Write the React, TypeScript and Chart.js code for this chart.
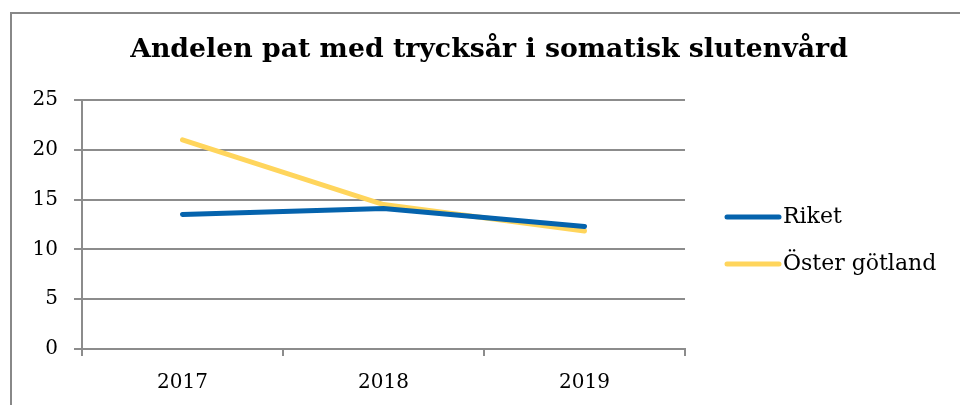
import React, { useEffect, useRef } from "react";
import { Chart, registerables } from "chart.js";

Chart.register(...registerables);

const title = "Andelen pat med trycksår i somatisk slutenvård";
const categories = ["2017", "2018", "2019"];
const riket = [13.5, 14.1, 12.3];
const ostergotland = [21.0, 14.5, 11.85];
const seriesNames = ["Riket", "Öster götland"];
const seriesColors = ["#0563AD", "#FFD55C"];
const yTicks = [0, 5, 10, 15, 20, 25];

const FONT = "'DejaVu Serif', Georgia, serif";

const framePlugin = {
  id: "frame",
  beforeDraw(chart: any) {
    const ctx = chart.ctx;
    ctx.save();
    ctx.fillStyle = "#ffffff";
    ctx.fillRect(0, 0, chart.width, chart.height);
    ctx.fillStyle = "#888888";
    ctx.fillRect(10, 12, 2, chart.height - 12);
    ctx.fillRect(10, 12, chart.width - 10, 2);
    ctx.restore();
  },
  afterDraw(chart: any) {
    const ctx = chart.ctx;
    ctx.save();
    // title
    ctx.fillStyle = "#000000";
    ctx.font = `bold 24px ${FONT}`;
    const target = 718;
    const w = ctx.measureText(title).width;
    const size = Math.max(16, Math.min(28, (24 * target) / w));
    ctx.font = `bold ${size}px ${FONT}`;
    ctx.textAlign = "center";
    ctx.textBaseline = "alphabetic";
    ctx.fillText(title, 489, 57);
    // legend
    const items = chart.data.datasets;
    ctx.font = `22px ${FONT}`;
    ctx.textAlign = "left";
    ctx.textBaseline = "middle";
    const ys = [217, 264];
    items.forEach((ds: any, i: number) => {
      const y = ys[i];
      ctx.strokeStyle = ds.borderColor;
      ctx.lineWidth = 5;
      ctx.lineCap = "round";
      ctx.beginPath();
      ctx.moveTo(727, y);
      ctx.lineTo(779, y);
      ctx.stroke();
      ctx.fillStyle = "#000000";
      ctx.fillText(ds.label, 783, y);
    });
    ctx.restore();
  },
};

export default function App() {
  const ref = useRef<HTMLCanvasElement | null>(null);
  useEffect(() => {
    document.body.style.margin = "0";
    if (!ref.current) return;
    const chart = new Chart(ref.current, {
      type: "line",
      data: {
        labels: categories,
        datasets: [
          {
            label: seriesNames[0],
            data: riket,
            borderColor: seriesColors[0],
            backgroundColor: seriesColors[0],
            borderWidth: 5,
            borderCapStyle: "round",
            pointRadius: 0,
            tension: 0,
          },
          {
            label: seriesNames[1],
            data: ostergotland,
            borderColor: seriesColors[1],
            backgroundColor: seriesColors[1],
            borderWidth: 5,
            borderCapStyle: "round",
            pointRadius: 0,
            tension: 0,
          },
        ],
      },
      options: {
        animation: false,
        responsive: false,
        devicePixelRatio: 1,
        layout: { padding: { left: 0, top: 100, right: 275, bottom: 0 } },
        plugins: {
          legend: { display: false },
          title: { display: false },
          tooltip: { enabled: false },
        },
        scales: {
          x: {
            offset: true,
            grid: {
              offset: true,
              drawOnChartArea: false,
              drawTicks: true,
              tickLength: 7,
              color: "#8c8c8c",
              lineWidth: 2,
            },
            border: { display: true, color: "#8c8c8c", width: 2 },
            ticks: {
              color: "#000000",
              font: { family: FONT, size: 20 },
              padding: 15,
              maxRotation: 0,
            },
            afterFit(scale: any) {
              scale.height = 56;
            },
          },
          y: {
            min: 0,
            max: 25,
            afterBuildTicks(scale: any) {
              scale.ticks = yTicks.map((v) => ({ value: v }));
            },
            grid: {
              color: "#8c8c8c",
              lineWidth: 2,
              drawTicks: true,
              tickLength: 8,
            },
            border: { display: true, color: "#8c8c8c", width: 2 },
            ticks: {
              color: "#000000",
              font: { family: FONT, size: 20 },
              padding: 16,
            },
            afterFit(scale: any) {
              scale.width = 82;
            },
          },
        },
      },
      plugins: [framePlugin],
    } as any);
    return () => chart.destroy();
  }, []);
  return <canvas ref={ref} width={960} height={405} style={{ display: "block" }} />;
}
